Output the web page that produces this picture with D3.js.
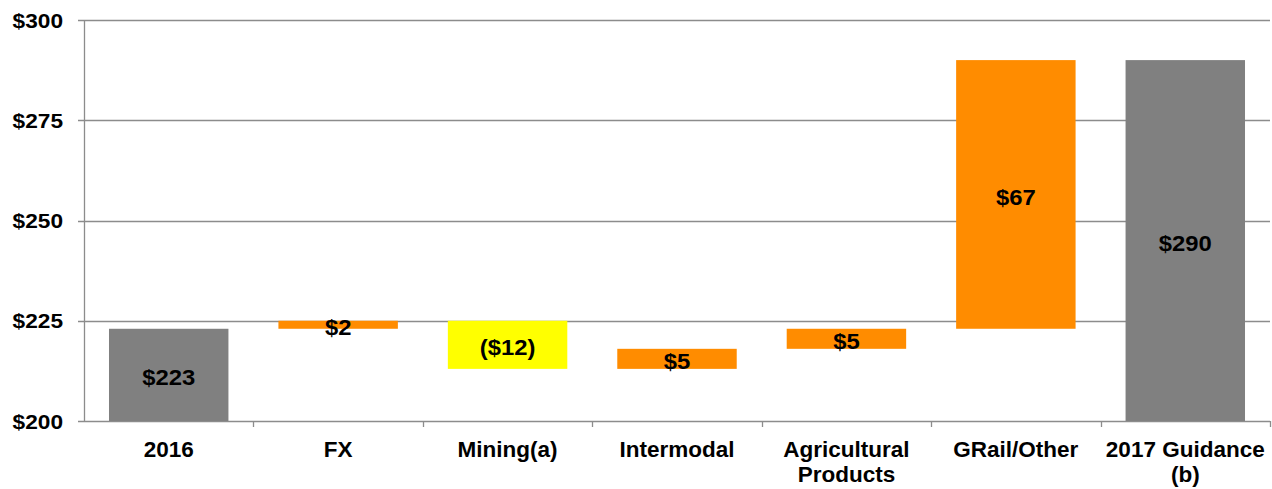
<!DOCTYPE html>
<html>
<head>
<meta charset="utf-8">
<script src="https://cdn.jsdelivr.net/npm/d3@7"></script>
<style>
  html, body { margin: 0; padding: 0; background: #fff; }
  svg text { font-family: "Liberation Sans", Arial, sans-serif; font-weight: bold; fill: #000; }
</style>
</head>
<body>
<svg id="chart" width="1272" height="489"></svg>
<script>
// Waterfall: 2016 base, bridge items, 2017 guidance total
const categories = ["2016", "FX", "Mining(a)", "Intermodal", "Agricultural\nProducts", "GRail/Other", "2017 Guidance\n(b)"];
const changes = [223, 2, -12, 5, 5, 67, 290];
const kinds = ["total", "up", "down", "up", "up", "up", "total"];
const valueLabels = ["$223", "$2", "($12)", "$5", "$5", "$67", "$290"];
const yTicks = [200, 225, 250, 275, 300];
const yTickLabels = ["$200", "$225", "$250", "$275", "$300"];

const colors = { total: "#808080", up: "#FF8C00", down: "#FFFF00" };

const margin = { left: 84, right: 2, top: 20, bottom: 68 };
const width = 1272, height = 489;
const svg = d3.select("#chart");

const x = d3.scaleBand().domain(categories).range([margin.left, width - margin.right]).paddingInner(0.295).paddingOuter(0.1475);
const xb = d3.scaleBand().domain(categories).range([margin.left, width - margin.right]);
const y = d3.scaleLinear().domain([200, 300]).range([height - margin.bottom, margin.top]);

// Running totals for floating segments
let running = 0;
const bars = categories.map((c, i) => {
  let lo, hi;
  if (kinds[i] === "total") { lo = 200; hi = changes[i]; running = changes[i]; }
  else { const start = running; running += changes[i]; lo = Math.min(start, running); hi = Math.max(start, running); }
  return { c, lo, hi, kind: kinds[i], label: valueLabels[i] };
});

// Gridlines
svg.append("g").selectAll("line").data(yTicks).join("line")
  .attr("x1", margin.left - 6).attr("x2", width - 2)
  .attr("y1", d => Math.round(y(d)) + 0.5).attr("y2", d => Math.round(y(d)) + 0.5)
  .attr("stroke", "#8c8c8c").attr("stroke-width", 1.3);

// Y axis line
svg.append("line").attr("x1", margin.left + 0.5).attr("x2", margin.left + 0.5)
  .attr("y1", y(300)).attr("y2", y(200)).attr("stroke", "#8c8c8c").attr("stroke-width", 1.3);

// Category boundary ticks
const bounds = categories.map(c => xb(c)).concat([xb(categories[categories.length - 1]) + xb.bandwidth()]);
svg.append("g").selectAll("line").data(bounds.slice(1)).join("line")
  .attr("x1", d => Math.round(d) + 0.5).attr("x2", d => Math.round(d) + 0.5)
  .attr("y1", y(200)).attr("y2", y(200) + 6)
  .attr("stroke", "#8c8c8c").attr("stroke-width", 1.3);

// Y tick labels (slightly widened glyphs)
svg.append("g").selectAll("text").data(yTicks).join("text")
  .attr("transform", d => `translate(63,${y(d)}) scale(1.08,1)`)
  .attr("dy", "0.36em")
  .attr("text-anchor", "end").style("font-size", "21px")
  .text((d, i) => yTickLabels[i]);

// Bars
svg.append("g").selectAll("rect").data(bars).join("rect")
  .attr("x", d => x(d.c)).attr("width", x.bandwidth())
  .attr("y", d => y(d.hi)).attr("height", d => y(d.lo) - y(d.hi))
  .attr("fill", d => colors[d.kind]);

// Value labels
svg.append("g").selectAll("text").data(bars).join("text")
  .attr("transform", d => `translate(${x(d.c) + x.bandwidth() / 2},${(y(d.lo) + y(d.hi)) / 2 + 2}) scale(1.06,1)`)
  .attr("dy", "0.36em")
  .attr("text-anchor", "middle").style("font-size", "22.5px")
  .text(d => d.label);

// Category labels
const cat = svg.append("g").selectAll("text").data(categories).join("text")
  .attr("x", c => xb(c) + xb.bandwidth() / 2)
  .attr("y", y(200) + 36)
  .attr("text-anchor", "middle").style("font-size", "22.5px");
cat.each(function (c) {
  const lines = c.split("\n");
  d3.select(this).selectAll("tspan").data(lines).join("tspan")
    .attr("x", xb(c) + xb.bandwidth() / 2)
    .attr("dy", (l, i) => i === 0 ? 0 : 25)
    .text(l => l);
});
</script>
</body>
</html>
